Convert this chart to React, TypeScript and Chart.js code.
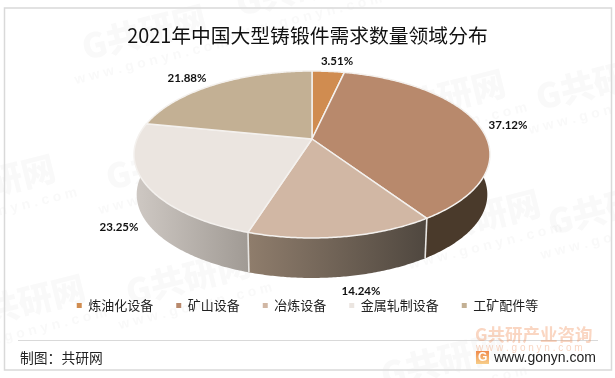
import React, { useEffect, useRef } from "react";
import { Chart, registerables } from "chart.js";

Chart.register(...registerables);

const categories = ["炼油化设备", "矿山设备", "冶炼设备", "金属轧制设备", "工矿配件等"];
const shares = [3.51, 37.12, 14.24, 23.25, 21.88];
const sliceColors = ["#D08C50", "#B8896C", "#D1B7A4", "#EBE5E0", "#C3B094"];
const titleText = "2021年中国大型铸锻件需求数量领域分布";
const footerText = "制图：共研网";
const siteText = "www.gonyn.com";

// anchor points of the percentage labels (text placement only)
const labelAnchors: [number, number][] = [[337, 61], [508, 125], [361, 291], [119, 227], [187, 78]];
const watermarkSpots: [number, number][] = [
  [146, 40], [300, -4], [600, 90], [445, 105], [170, 170], [190, 285], [25, 310], [480, 225], [445, 368], [612, 215], [-5, 190],
];

const CJK = '"Noto Sans CJK SC", sans-serif';
const FONT_LABEL = 'bold 11.5px Lato, sans-serif';

// perspective projection of the pie disc
const P = { cx: 312, y0: 139, a: -54.8, k: 0.1856, c: 174.9, depth: 40, shrink: 0.985 };
const project = (theta: number) => {
  const u = Math.sin(theta);
  const v = Math.cos(theta);
  const d = 1 + P.k * v;
  return { x: P.cx + (P.c * u) / d, y: (P.y0 + P.a * v) / d };
};
const projectLow = (theta: number) => {
  const p = project(theta);
  return { x: P.cx + (p.x - P.cx) * P.shrink, y: p.y + P.depth };
};
const rim = (start: number, end: number) => {
  const n = Math.max(2, Math.ceil(Math.abs(end - start) / 0.01));
  const out: number[] = [];
  for (let i = 0; i <= n; i++) out.push(start + ((end - start) * i) / n);
  return out;
};

const wallPaint = (ctx: CanvasRenderingContext2D, i: number) => {
  const grad = (x0: number, x1: number, a: string, b: string) => {
    const g = ctx.createLinearGradient(x0, 0, x1, 0);
    g.addColorStop(0, a);
    g.addColorStop(1, b);
    return g;
  };
  if (i === 1) return "#4A3A2B";
  if (i === 2) return grad(249, 427, "#8F7D6C", "#4F473F");
  if (i === 3) return grad(134, 249, "#CFC9C4", "#A09A94");
  return sliceColors[i];
};

const pie3d = {
  id: "pie3d",
  beforeDraw(chart: any) {
    const ctx: CanvasRenderingContext2D = chart.ctx;
    ctx.save();
    ctx.fillStyle = "#fff";
    ctx.fillRect(0, 0, chart.width, chart.height);
    for (const [x, y] of watermarkSpots) {
      ctx.save();
      ctx.translate(x, y);
      ctx.rotate((-14 * Math.PI) / 180);
      ctx.textAlign = "center";
      ctx.textBaseline = "middle";
      ctx.fillStyle = "rgba(90,90,90,0.035)";
      ctx.font = `900 34px ${CJK}`;
      ctx.fillText("G共研网", 0, -8);
      ctx.font = "bold 14px 'Liberation Sans', sans-serif";
      ctx.fillText("w w w . g o n y n . c o m", 0, 22);
      ctx.restore();
    }
    ctx.strokeStyle = "#D9D9D9";
    ctx.lineWidth = 1.5;
    ctx.strokeRect(4.5, 8, 607, 362);
    ctx.beginPath();
    ctx.moveTo(18, 340.5);
    ctx.lineTo(598, 340.5);
    ctx.lineWidth = 1;
    ctx.stroke();
    ctx.textBaseline = "middle";
    ctx.textAlign = "left";
    ctx.fillStyle = "#222";
    ctx.font = `13.8px ${CJK}`;
    ctx.fillText(footerText, 20, 358);
    ctx.fillStyle = "rgba(240,130,70,0.33)";
    ctx.font = `bold 17.5px ${CJK}`;
    ctx.fillText("G共研产业咨询", 475, 334);
    ctx.font = "10px 'Liberation Sans', sans-serif";
    ctx.fillText("w w w . g o n y n . c o m", 476, 348);
    const g = ctx.createLinearGradient(0, 351, 0, 364);
    g.addColorStop(0, "#F08A4B");
    g.addColorStop(1, "#F7CE8A");
    ctx.fillStyle = g;
    ctx.fillRect(476, 351, 13, 13);
    ctx.fillStyle = "#fff";
    ctx.font = "bold 12px 'Liberation Sans', sans-serif";
    ctx.fillText("G", 478, 358);
    ctx.fillStyle = "#222";
    ctx.font = "14px 'Liberation Sans', sans-serif";
    ctx.fillText(siteText, 494, 358);
    ctx.restore();
  },
  beforeDatasetsDraw(chart: any) {
    const ctx: CanvasRenderingContext2D = chart.ctx;
    const arcs = chart.getDatasetMeta(0).data;
    const th = (a: number) => a + Math.PI / 2;
    ctx.save();
    ctx.lineJoin = "round";
    arcs.forEach((arc: any, i: number) => {
      const s = th(arc.startAngle);
      const e = th(arc.endAngle);
      const mid = (s + e) / 2;
      if (Math.cos(mid) > 0.9) return;
      ctx.beginPath();
      const top = rim(s, e);
      top.forEach((t, j) => {
        const p = project(t);
        j ? ctx.lineTo(p.x, p.y) : ctx.moveTo(p.x, p.y);
      });
      top.reverse().forEach((t) => {
        const p = projectLow(t);
        ctx.lineTo(p.x, p.y);
      });
      ctx.closePath();
      ctx.fillStyle = wallPaint(ctx, i);
      ctx.fill();
    });
    ctx.strokeStyle = "#E8E6E3";
    ctx.lineWidth = 1.6;
    arcs.forEach((arc: any) => {
      const s = th(arc.startAngle);
      if (Math.cos(s) < -0.3) {
        const a = project(s);
        const b = projectLow(s);
        ctx.beginPath();
        ctx.moveTo(a.x, a.y);
        ctx.lineTo(b.x, b.y);
        ctx.stroke();
      }
    });
    arcs.forEach((arc: any) => {
      const s = th(arc.startAngle);
      const e = th(arc.endAngle);
      ctx.beginPath();
      ctx.moveTo(P.cx, P.y0);
      rim(s, e).forEach((t) => {
        const p = project(t);
        ctx.lineTo(p.x, p.y);
      });
      ctx.closePath();
      ctx.fillStyle = arc.options.backgroundColor;
      ctx.fill();
      ctx.strokeStyle = "#F4F1EE";
      ctx.lineWidth = 1.5;
      ctx.stroke();
    });
    ctx.fillStyle = "#111";
    ctx.font = FONT_LABEL;
    ctx.textAlign = "center";
    ctx.textBaseline = "middle";
    shares.forEach((v, i) => {
      ctx.fillText(v.toFixed(2) + "%", labelAnchors[i][0], labelAnchors[i][1]);
    });
    ctx.restore();
    return false;
  },
};

export default function App() {
  const ref = useRef<HTMLCanvasElement | null>(null);
  useEffect(() => {
    const chart = new Chart(ref.current as HTMLCanvasElement, {
      type: "pie",
      data: {
        labels: categories,
        datasets: [{ data: shares, backgroundColor: sliceColors, borderWidth: 0 }],
      },
      options: {
        responsive: false,
        animation: false,
        layout: { padding: { bottom: 56 } },
        plugins: {
          tooltip: { enabled: false },
          title: {
            display: true,
            text: titleText,
            color: "#111",
            font: { family: CJK, size: 19.8, weight: "normal" },
            padding: { top: 24, bottom: 4 },
          },
          legend: {
            position: "bottom",
            labels: {
              boxWidth: 5,
              boxHeight: 5,
              padding: 23,
              color: "#222",
              font: { family: CJK, size: 13 },
            },
          },
        },
      },
      plugins: [pie3d],
    } as any);
    return () => chart.destroy();
  }, []);
  return (
    <div style={{ position: "absolute", left: 0, top: 0, width: 615, height: 378 }}>
      <canvas ref={ref} width={615} height={378} style={{ display: "block" }} />
    </div>
  );
}
